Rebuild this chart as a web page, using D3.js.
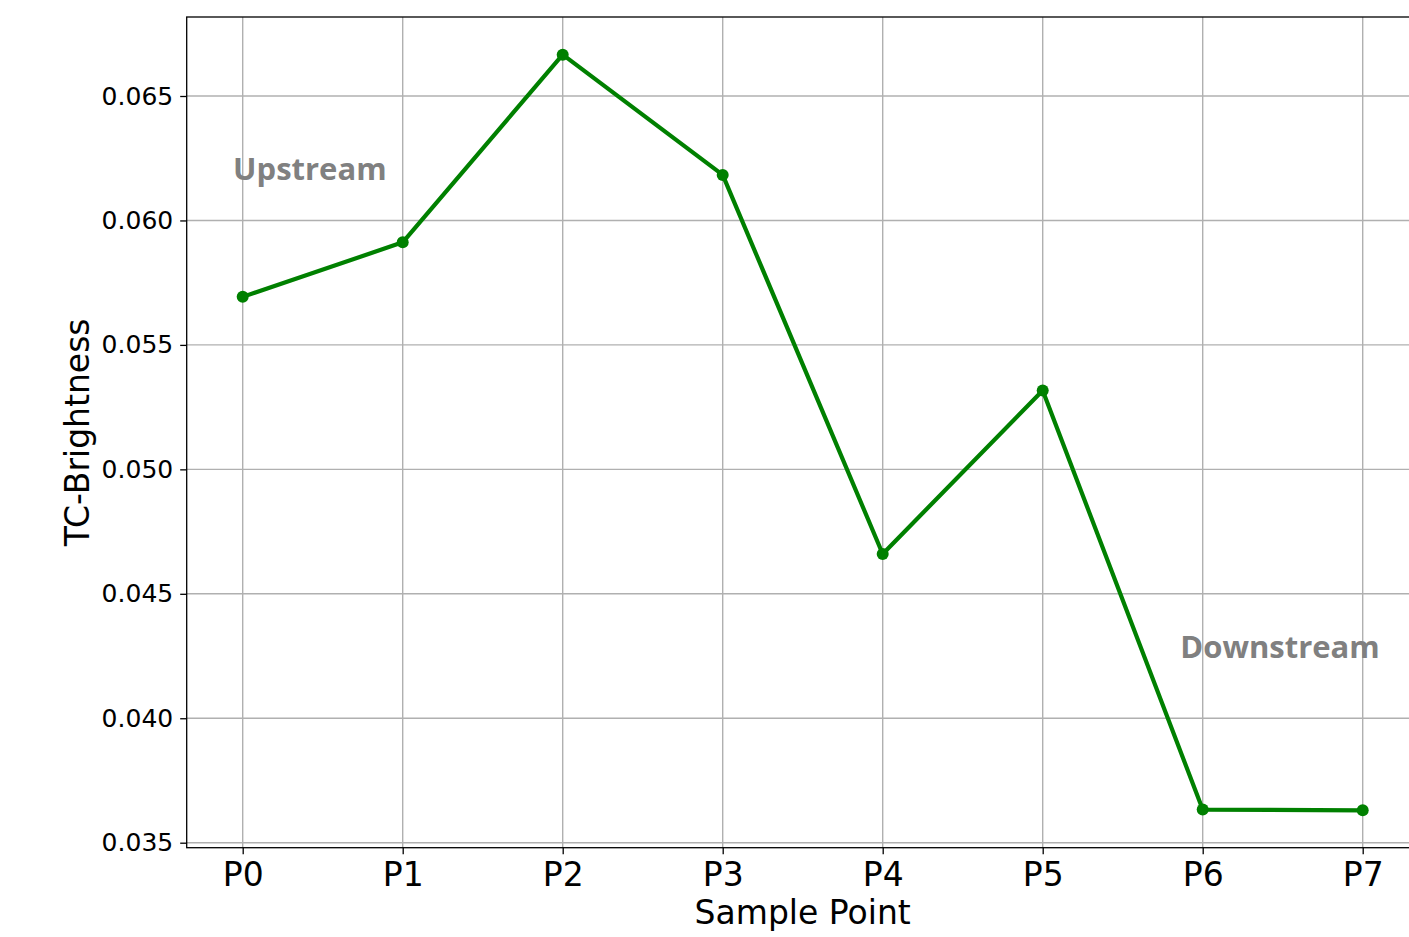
<!DOCTYPE html>
<html>
<head>
<meta charset="utf-8">
<script src="https://cdn.jsdelivr.net/npm/d3@7"></script>
<style>
  html, body { margin: 0; padding: 0; background: #fff; overflow: hidden; }
  svg { display: block; }
</style>
</head>
<body>
<svg id="chart" width="1409" height="937"></svg>
<script>
const categories = ["P0", "P1", "P2", "P3", "P4", "P5", "P6", "P7"];
const values = [0.05693, 0.05912, 0.06666, 0.06183, 0.04660, 0.05317, 0.03633, 0.03630];
const yTicks = [0.035, 0.040, 0.045, 0.050, 0.055, 0.060, 0.065];
const annotationTexts = ["Upstream", "Downstream"];
const annotationX = [-0.06, 5.86];
const annotationY = [0.06163, 0.04242];

(function () {
const svg = d3.select("#chart");
const pLeft = 186.7, pRight = 1418.7, pTop = 17, pBottom = 847.7;

const x = d3.scaleLinear().domain([-0.35, 7.35]).range([pLeft, pRight]);
const y = d3.scaleLinear().domain([0.0347991, 0.068174]).range([pBottom, pTop]);

svg.append("defs").append("clipPath").attr("id", "clip")
  .append("rect").attr("x", pLeft).attr("y", pTop).attr("width", pRight - pLeft).attr("height", pBottom - pTop);

// grid
const grid = svg.append("g").attr("clip-path", "url(#clip)");
grid.selectAll("line.gx").data(categories).join("line").attr("class", "gx")
  .attr("x1", (d, i) => x(i)).attr("x2", (d, i) => x(i))
  .attr("y1", pTop).attr("y2", pBottom)
  .attr("stroke", "#b0b0b0").attr("stroke-width", 1.4);
grid.selectAll("line.gy").data(yTicks).join("line").attr("class", "gy")
  .attr("x1", pLeft).attr("x2", pRight)
  .attr("y1", d => y(d)).attr("y2", d => y(d))
  .attr("stroke", "#b0b0b0").attr("stroke-width", 1.4);

// axes
const xAxis = d3.axisBottom(x).tickValues(d3.range(categories.length))
  .tickFormat(i => categories[i]).tickSize(6.5).tickPadding(8);
const gx = svg.append("g").attr("transform", `translate(0,${pBottom})`).call(xAxis);
gx.select(".domain").remove();
gx.selectAll(".tick line").attr("stroke", "#000").attr("stroke-width", 1.3);
gx.selectAll(".tick text").attr("font-family", "DejaVu Sans").attr("font-size", 33).attr("fill", "#000");

const yAxis = d3.axisLeft(y).tickValues(yTicks).tickFormat(d3.format(".3f")).tickSize(6.5).tickPadding(7);
const gy = svg.append("g").attr("transform", `translate(${pLeft},0)`).call(yAxis);
gy.select(".domain").remove();
gy.selectAll(".tick line").attr("stroke", "#000").attr("stroke-width", 1.3);
gy.selectAll(".tick text").attr("font-family", "DejaVu Sans").attr("font-size", 25).attr("fill", "#000");

// spines
svg.append("rect").attr("x", pLeft).attr("y", pTop).attr("width", pRight - pLeft).attr("height", pBottom - pTop)
  .attr("fill", "none").attr("stroke", "#000").attr("stroke-width", 1.3);

// line
const data = values.map((v, i) => ({ i, v }));
const lineGen = d3.line().x(d => x(d.i)).y(d => y(d.v));
svg.append("path").datum(data).attr("d", lineGen)
  .attr("fill", "none").attr("stroke", "#008000").attr("stroke-width", 4.2)
  .attr("stroke-linejoin", "round");
svg.selectAll("circle.pt").data(data).join("circle").attr("class", "pt")
  .attr("cx", d => x(d.i)).attr("cy", d => y(d.v)).attr("r", 6)
  .attr("fill", "#008000");

// annotations
svg.selectAll("text.ann").data(annotationTexts).join("text").attr("class", "ann")
  .attr("x", (d, i) => x(annotationX[i])).attr("y", (d, i) => y(annotationY[i]))
  .attr("font-family", "Open Sans").attr("font-weight", "bold").attr("font-size", 31)
  .attr("fill", "#808080").text(d => d);

// axis labels
svg.append("text").attr("x", (pLeft + pRight) / 2).attr("y", 924)
  .attr("text-anchor", "middle").attr("font-family", "DejaVu Sans").attr("font-size", 33)
  .attr("fill", "#000").text("Sample Point");
svg.append("text").attr("transform", `translate(89,${(pTop + pBottom) / 2}) rotate(-90)`)
  .attr("text-anchor", "middle").attr("font-family", "DejaVu Sans").attr("font-size", 33)
  .attr("fill", "#000").text("TC-Brightness");
})();
</script>
</body>
</html>
